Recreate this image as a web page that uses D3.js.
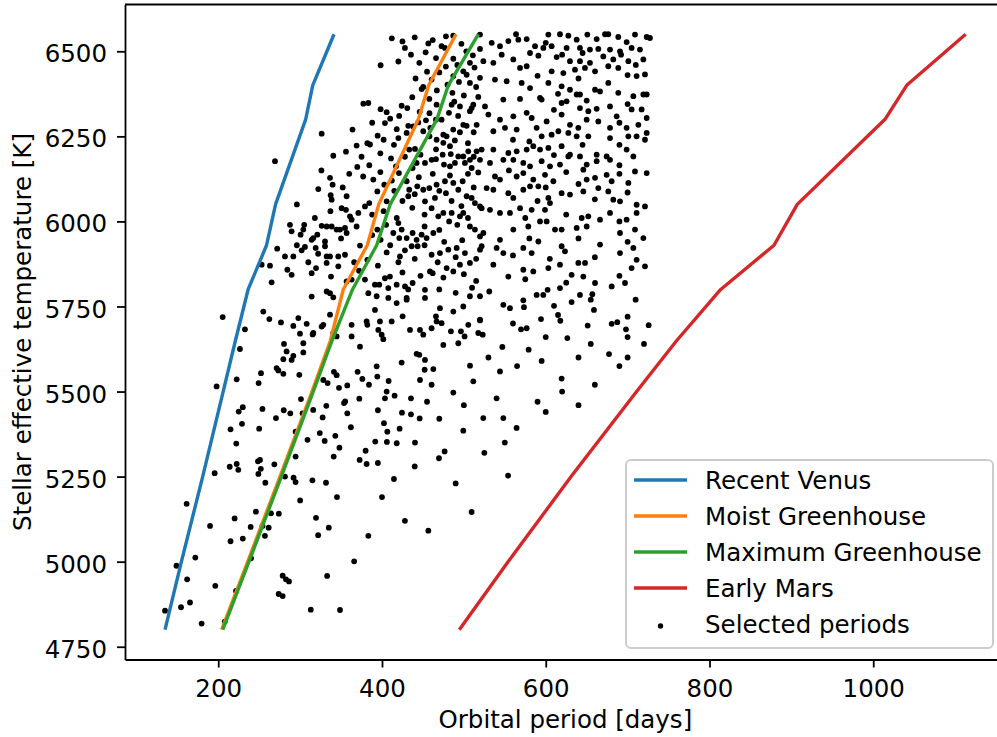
<!DOCTYPE html>
<html>
<head>
<meta charset="utf-8">
<script src="https://cdn.jsdelivr.net/npm/d3@7"></script>
<style>
body { margin: 0; background: #fff; }
text { font-family: "DejaVu Sans", sans-serif; }
</style>
</head>
<body>
<div id="graph"></div>
<script>
// stellar effective temperature grid [K] and orbital period at each limit [days]
var teff          = [4800, 5000, 5250, 5500, 5650, 5800, 5930, 6050, 6300, 6400, 6550];
var recentVenus   = [135, 155, 181, 206, 221, 236.5, 259, 270, 306.8, 315.4, 341.4];
var moistGH       = [204.2, 236, 275.4, 314.5, 337, 352.7, 382, 396, 444.4, 457, 490.4];
var maximumGH     = [205.5, 237.5, 277, 316, 339, 364, 393.5, 410, 467, 481, 517.6];
var earlyMars     = [494.4, 554, 631, 711, 760, 813.7, 878.8, 907.2, 1014.4, 1040.9, 1112.9];

var seriesNames  = ['Recent Venus', 'Moist Greenhouse', 'Maximum Greenhouse', 'Early Mars'];
var seriesValues = [recentVenus, moistGH, maximumGH, earlyMars];
var seriesColors = ['#1f77b4', '#ff7f0e', '#2ca02c', '#d62728'];
var scatterName  = 'Selected periods';

var xTicks = [200, 400, 600, 800, 1000];
var yTicks = [4750, 5000, 5250, 5500, 5750, 6000, 6250, 6500];

// selected periods: [period, teff]
var selected = [
[230,5454],[225,5441],[215,5389],[229,5405],[222,5347],[250,5391],[254,5449],[270.5,5422],[280,5445],[288,5436],
[303,5436],[294.5,5382],[316,5446],[327.5,5424],[332,5458],[324,5378],[330,5355],[309,5358],[343,5370],[341,5309],
[294.5,5309],[214,5279],[222.5,5287],[224.5,5270],[248.5,5295],[251,5299],[252,5273],[249,5258],[257.5,5232],[268.5,5286],
[281.5,5250],[292,5247],[294.5,5234],[315,5239],[331.6,5232],[195.6,5260],[161.4,5170],[220,5127],[246,5147],[264.4,5142],
[274,5141],[239.6,5102],[254,5105],[261.6,5100],[230,5068],[257,5076],[319.4,5129],[322,5078],[383.3,5076],[366,5001],
[333,4958],[278.7,4959],[282.7,4948],[286.4,4942],[273.8,4905],[278.7,4899],[221.7,4914],[196.4,4929],[172,5012],[149,4988],
[162,4948],[154.5,4866],[165.5,4880],[135,4856],[179.7,4818],[208,4824],[313,4859],[348.7,4858],[456.6,5091],[509.5,5146],
[554,5253],[414.6,5243],[469.6,5304],[476.5,5324],[499.3,5385],[523.7,5422],[548.2,5422],[564.4,5393],[440.3,5350],[418,5348],
[406,5352],[391.8,5353],[380,5326],[372.7,5299],[381.2,5287],[421.5,5391],[406.5,5382],[402.4,5407],[357.6,5436],[435.4,5433],
[446,5421],[424.4,5438],
[205.4,5719],[255,5735],[262.4,5713],[232.6,5683],[226.5,5625],[276.6,5703],[291.7,5693],[297.8,5716],[308,5699],[315.3,5668],
[299.8,5670],[280.3,5640],[283.5,5618],[291.7,5605],[289.6,5593],[303.9,5642],[303.9,5615],[279.5,5595],[271.3,5569],[273.4,5562],
[279.5,5552],[299,5549],[252.2,5554],[249.3,5525],[222.5,5536],[198,5515],[301,5478],[353.6,5466],[355,5471],[372.3,5479],
[357.6,5518],[347.5,5511],[341.3,5558],[344.6,5548],[333.6,5525],[328.3,5534],[316.1,5672],[326.3,5691],[328.3,5696],[336.5,5726],
[340.5,5672],[344.6,5662],[362.9,5662],[362.9,5696],[373.1,5632],[381.2,5706],[382.1,5696],[391.4,5740],[397.5,5706],[395.5,5681],
[399.6,5667],[401.6,5654],[411.8,5706],[417.9,5760],[425.2,5721],[430.1,5770],[434.2,5681],[442.3,5611],[446.4,5681],[450.4,5667],
[452.5,5593],[452.1,5564],[462.7,5566],[460.6,5686],[466.7,5706],[465.9,5721],[470.8,5745],[472.8,5701],[474.9,5637],[484.2,5677],
[487.1,5735],[493.2,5642],[496.4,5677],[499.3,5750],[500.9,5662],[505.4,5696],[519.7,5709],[517.6,5672],[446.4,5534],[460.6,5520],
[445.6,5608],[424,5585],[394.3,5544],[393.5,5574],[384.1,5520],[376,5537],[370.2,5558],[405.7,5500],[408.1,5531],[403.6,5480],
[415.4,5488],[435.4,5480],[511.5,5530],[507.5,5576],[487.1,5497],
[572.6,5768],[573.4,5748],[548.2,5755],[556.3,5745],[588.9,5784],[597,5784],[602.3,5799],[631.6,5763],[641.8,5784],[656.9,5786],
[709.8,5770],[610.1,5752],[658.9,5740],[594.2,5713],[617.8,5708],[651.2,5694],[680.5,5699],[687.4,5704],[698,5683],[725.7,5695],
[626.4,5657],[569.8,5683],[576.7,5686],[547,5631],[579.1,5623],[677.3,5610],[544.1,5559],[619.4,5538],[519.7,5711],[523,5667],
[519.7,5780],[531,5794],
[478.1,6544],[456.6,6523],[472.8,6515],[476.9,6510],[435.4,6490],[453.3,6497],[445.6,6466],[487.1,6478],[398.3,6459],[519.7,6549],
[519.7,6507],[507.4,6466],[499.3,6441],[487.1,6427],[503.4,6431],[519.7,6422],[450.4,6395],[448.4,6389],[460.6,6417],[507.4,6407],
[457.8,6360],[466.7,6343],[485.1,6343],[495.2,6338],[511.5,6343],[509.5,6333],[517.6,6366],[377.2,6346],[383.3,6348],[398.3,6330],
[405.7,6321],[424,6340],[430.9,6333],[481.8,6319],[507.4,6324],[488.3,6352],[453.7,6297],[465.9,6299],[472.8,6299],[444.3,6291],
[403.6,6289],[432.1,6281],[438.2,6279],[474.9,6255],[478.9,6250],[495.2,6262],[499.3,6284],[503.4,6281],[515.6,6284],[326.3,6258],
[394.7,6252],[369,6223],[382.1,6230],[385.3,6226],[414.6,6225],[430.1,6260],[433.3,6211],[440.3,6213],[450.4,6265],[466.7,6240],
[474.9,6231],[483,6221],[493.2,6191],[474.1,6196],[499.3,6191],[505.4,6206],[507.4,6181],[515.6,6206],[340.5,6193],[269.3,6177],
[336.5,6128],[339.7,6108],[369.8,6160],[384.5,6165],[389.4,6123],[402.8,6108],[417.1,6162],[420.7,6142],[437.4,6157],[442.3,6172],
[452.5,6172],[460.6,6181],[465.9,6183],[475.7,6167],[483,6162],[489.1,6172],[501.3,6172],[509.5,6157],[517.6,6144],[322.2,6095],
[337.3,6077],[338.5,6064],[356.8,6074],[350.7,6039],[356,6034],[360.9,6015],[362.9,6005],[371.1,6025],[369,5985],[379.2,6044],
[384.5,6054],[394.3,6088],[405.7,6059],[430.1,6118],[433.3,6093],[432.1,6074],[443.1,6103],[450.4,6093],[452.5,6059],[457.8,6098],
[460.6,6039],[464.7,6069],[466.7,6108],[476.9,6118],[478.1,6083],[487.1,6113],[493.2,6093],[498.5,6118],[503.4,6074],[509.5,6069],
[513.5,6054],[519.7,6044],[287.6,5990],[289.6,5971],[300.6,5961],[303.9,5976],[314.1,5946],[316.1,5951],[321,5961],[326.3,5987],
[332.4,5985],[330.4,5941],[338.5,5985],[344.6,5976],[348.7,5976],[354.8,5981],[356.8,5966],[394.3,5976],[398.3,5946],[413.8,5966],
[421.1,5951],[424,5976],[430.1,5951],[437.4,5966],[442.3,5946],[448.4,5961],[454.5,5951],[462.7,5966],[468.8,6015],[474.9,6025],
[485.1,6025],[495.2,6015],[499.3,6025],[507.4,5985],[513.5,5976],[519.7,5956],[281.5,5897],[291.7,5897],[301.9,5915],[305.9,5925],
[319,5922],[330.4,5927],[332.4,5897],[336.5,5897],[346.6,5897],[354.8,5902],[373.1,5929],[382.1,5887],[405.7,5909],[421.9,5897],
[436.2,5927],[443.5,5927],[460.6,5902],[470.8,5907],[481,5917],[491.2,5922],[501.3,5907],[519.7,5917],[253,5873],[263.2,5870],
[265.2,5821],[284.4,5858],[289.6,5843],[314.1,5848],[319.4,5863],[332.4,5878],[337.7,5838],[346.6,5868],[356.8,5824],[362.9,5829],
[379.2,5829],[383.3,5789],[391.4,5814],[396.7,5814],[403.6,5833],[407.7,5804],[409.7,5838],[417.9,5814],[428.1,5809],[437.4,5819],
[452.5,5799],[458.6,5853],[461.9,5848],[479,5863],[487.1,5853],[495.2,5873],[507.4,5878],[314.1,5779],[332.4,5794],[336.5,5789],
[340.5,5777],[393.5,5780],[407.7,5775],[430.1,5775],[452.5,5775],[507.4,5780],
[563.7,6550],[576.7,6536],[603.2,6549],[617.4,6550],[627.6,6546],[637.8,6534],[650.8,6549],[662.2,6536],[672.4,6550],[676.4,6550],
[688.6,6542],[698.8,6527],[709,6549],[723.3,6542],[727.3,6539],[534,6525],[544.1,6515],[554.3,6530],[566.5,6534],[586.9,6515],
[597.1,6510],[607.2,6515],[625.5,6510],[641.8,6510],[654,6505],[664.2,6507],[678.5,6505],[690.7,6500],[704.9,6510],[715.1,6505],
[546.2,6490],[560.4,6476],[580.8,6495],[591,6487],[613.3,6483],[629.6,6471],[641.8,6471],[654,6466],[670.3,6485],[682.5,6476],
[700.9,6471],[719.2,6476],[523.8,6471],[536,6466],[568.6,6451],[576.7,6456],[607.2,6441],[621.5,6436],[635.7,6446],[647.9,6451],
[660.2,6441],[676.4,6456],[688.6,6451],[711,6427],[721.2,6432],
[538,6417],[552.3,6412],[570.6,6407],[580.8,6392],[603.2,6407],[619.4,6397],[629.6,6387],[637.8,6373],[641.8,6373],[660.2,6387],
[666.3,6382],[676.4,6407],[688.6,6378],[707,6368],[719.2,6373],[723.3,6373],[525.8,6338],[548.2,6358],[568.6,6360],[593,6363],
[595,6358],[619.4,6348],[625.5,6353],[641.8,6333],[652,6324],[662.2,6331],[678.5,6338],[686.6,6309],[704.9,6329],[717.1,6329],
[723.3,6304],
[529.9,6314],[544.1,6299],[560.4,6309],[576.7,6319],[582.8,6304],[601.1,6294],[619.4,6314],[629.6,6284],[639.8,6275],[650,6299],
[664.2,6294],[678.5,6275],[698.8,6275],[713.1,6284],[536,6265],[550.2,6275],[564.5,6270],[588.9,6275],[595,6250],[607.2,6255],
[615.4,6265],[627.6,6260],[637.8,6250],[652,6250],[678.5,6245],[700.9,6250],[711,6250],[721.2,6240],[723.3,6260],
[521.7,6211],[536,6211],[554.3,6201],[564.5,6206],[576.7,6211],[584.8,6221],[593,6211],[603.2,6216],[619.4,6221],[629.6,6196],
[641.8,6191],[662.2,6196],[674.4,6191],[698.8,6211],[707,6191],[519.7,6181],[531.9,6172],[548.2,6181],[560.4,6181],[572.6,6172],
[580.8,6162],[595,6177],[605.2,6162],[617.4,6167],[627.6,6191],[650,6167],[662.2,6177],[678.5,6181],[709,6147],[723.3,6142],
[538,6132],[544.1,6123],[564.5,6132],[572.6,6142],[584.8,6123],[599.1,6137],[609.3,6118],[645.9,6152],[650,6123],[660.2,6128],
[674.4,6137],[680.5,6118],[700.9,6113],[527.8,6098],[536,6093],[554.3,6083],[560.4,6069],[572.6,6093],[580.8,6103],[591,6103],
[603.2,6069],[619.4,6083],[629.6,6079],[645.9,6088],[664.2,6098],[676.4,6088],[682.5,6064],[690.7,6059],[711,6049],[721.2,6044],
[521.7,6039],[531.9,6034],[544.1,6025],[556.3,6025],[568.6,6039],[582.8,6034],[599.1,6034],[605.2,6054],[643.9,6010],[652,6015],
[678.5,6025],[698.8,6005],[711,6025],[523.8,5966],[544.1,5946],[560.4,5976],[578.7,5985],[593,6000],[601.1,6000],[611.3,5976],
[619.4,5976],[637.8,5981],[650,5985],[666.3,6005],[690.7,5966],[709,5976],[719.2,5951],
[521.7,5927],[540,5922],[548.2,5907],[572.6,5922],[582.8,5907],[591,5941],[619.4,5927],[623.5,5912],[639.8,5878],[648,5878],
[666.3,5932],[690.7,5907],[707,5922],[711,5887],[721.2,5868],[536,5873],[554.3,5838],[572.6,5858],[584.8,5853],[603.2,5863],
[617.4,5873],[631.6,5843],[645.9,5838],[660.2,5819],[680.5,5809],[696.8,5819],[704.9,5863],[617.4,5804],
[412,6538],[425,6529],[440,6541],[462,6533],[487,6546],[497,6522],[428,6510],[503,6500],[511,6488],[466,6480],
[420,6470],[478,6455],[492,6460],[455,6440],[470,6438],[513,6452],[441,6420],[480,6402],[494,6410],[515,6395],
[467,6385],[486,6378],[500,6370],[437,6365],[421,6310],[446,6322],[458,6318],[493,6310],[410,6302],[388,6290],
[418,6271],[459,6275],[487,6270],[512,6262],[364,6270],[402,6240],[420,6245],[458,6250],[489,6238],[505,6230],
[356,6205],[375,6190],[398,6200],[411,6185],[428,6190],[447,6196],[466,6212],[484,6198],[512,6190],[360,6140],
[377,6132],[398,6145],[412,6120],[445,6130],[462,6140],[483,6135],[505,6140],[415,6090],[425,6060],[440,6080],
[470,6090],[485,6060],[497,6045],[512,6100],[388,6020],[402,6030],[418,6010],[437,6040],[452,6020],[482,6000],
[505,6010],[388,5960],[405,5990],[420,5995],[452,5985],[470,5975],[492,5990],[410,5930],[428,5915],[452,5930],
[476,5940],[498,5945],[420,5880],[440,5890],[468,5880],[490,5895],[515,5890],[425,5850],[447,5840],[475,5835],
[500,5845],[515,5825],[432,5800],[470,5800],[490,5790],[510,5805],[372,5855],[366,5880],[395,5870],[310,5880],
[322,5905],[296,5930],[272,5920],[350,5950],[305,5990],[318,6010],[337,6030],[296,6050],[352,6100],[326,6150],
[600,6525],[620,6490],[645,6495],[692,6490],[710,6460],[590,6428],[640,6420],[700,6430],[615,6375],[650,6355],
[700,6345],[610,6328],[690,6290],[560,6240],[580,6235],[645,6225],[690,6225],[610,6195],[690,6165],[555,6150],
[625,6145],[690,6140],[600,6100],[640,6110],[700,6085],[590,6060],[660,6065],[575,6010],[625,6020],[690,6000],
[580,5950],[640,5950],[700,5940],[560,5900],[605,5890],[660,5895],[575,5830],[625,5820],[690,5840],[655,5770],
[700,5720],[615,5725],[560,5700],[600,5660],[655,5640],[700,5660],[720,5640],[595,5590],[640,5600],[690,5575],
[530,5600],[565,5575],[620,5500],[660,5520],[590,5470],[540,5480],[500,5460],[470,5420],[455,5470],[395,5445],
[362,5395],[348,5335],[395,5290],[440,5280],[345,5190],[300,5180],[335,5100],[215,5060],[190,5105],[240,5010],
[400,5190],[428,5120],[490,5230],[525,5320],[550,5350],[600,5440],[640,5460],[700,5600]
];

var width = 997, height = 737;
var plotLeft = 125, plotTop = 4.5, plotW = 880.7, plotH = 655;
var fs = 24.5;

// matplotlib-like 5% margins around the data
var allX = selected.map(function(d){ return d[0]; });
seriesValues.forEach(function(s){ allX = allX.concat(s); });
var allY = selected.map(function(d){ return d[1]; }).concat(teff);
var xExt = d3.extent(allX), yExt = d3.extent(allY);
var xPad = (xExt[1] - xExt[0]) * 0.05, yPad = (yExt[1] - yExt[0]) * 0.05;

var x = d3.scaleLinear().domain([xExt[0] - xPad, xExt[1] + xPad]).range([0, plotW]);
var y = d3.scaleLinear().domain([yExt[0] - yPad, yExt[1] + yPad]).range([plotH, 0]);

var svg = d3.select('#graph').append('svg')
  .attr('width', width).attr('height', height);

var g = svg.append('g').attr('transform', 'translate(' + plotLeft + ',' + plotTop + ')');

// scatter first, lines drawn on top
g.selectAll('circle.sel').data(selected).enter()
  .append('circle')
  .attr('class', 'sel')
  .attr('cx', function(d){ return x(d[0]); })
  .attr('cy', function(d){ return y(d[1]); })
  .attr('r', 2.9)
  .attr('fill', '#000');

var line = d3.line()
  .x(function(d){ return x(d[0]); })
  .y(function(d){ return y(d[1]); });

seriesValues.forEach(function(vals, i){
  var pts = vals.map(function(v, j){ return [v, teff[j]]; });
  g.append('path')
    .attr('d', line(pts))
    .attr('fill', 'none')
    .attr('stroke', seriesColors[i])
    .attr('stroke-width', 3.4)
    .attr('stroke-linejoin', 'round')
    .attr('stroke-linecap', 'butt');
});

// axes
var xAxis = d3.axisBottom(x).tickValues(xTicks).tickSize(8).tickSizeOuter(0).tickFormat(d3.format('d'));
var yAxis = d3.axisLeft(y).tickValues(yTicks).tickSize(8).tickSizeOuter(0).tickFormat(d3.format('d'));

var gx = g.append('g').attr('transform', 'translate(0,' + plotH + ')').call(xAxis);
var gy = g.append('g').call(yAxis);

[gx, gy].forEach(function(ax){
  ax.select('.domain').attr('stroke', '#000').attr('stroke-width', 1.8);
  ax.selectAll('.tick line').attr('stroke', '#000').attr('stroke-width', 1.8);
  ax.selectAll('.tick text')
    .attr('fill', '#000')
    .style('font-size', fs + 'px')
    .style('font-family', '"DejaVu Sans", sans-serif');
});
gx.selectAll('.tick text').attr('dy', null).attr('y', 37);
gy.selectAll('.tick text').attr('dy', '0.43em').attr('x', -18);

// top and right spines
g.append('line').attr('x1', 0).attr('x2', plotW).attr('y1', 0).attr('y2', 0)
  .attr('stroke', '#000').attr('stroke-width', 1.8);
g.append('line').attr('x1', plotW).attr('x2', plotW).attr('y1', 0).attr('y2', plotH)
  .attr('stroke', '#000').attr('stroke-width', 1.8);

// axis labels
svg.append('text')
  .attr('x', plotLeft + plotW / 2).attr('y', 728)
  .attr('text-anchor', 'middle')
  .style('font-size', fs + 'px')
  .text('Orbital period [days]');

svg.append('text')
  .attr('transform', 'translate(31,' + (plotTop + plotH / 2) + ') rotate(-90)')
  .attr('text-anchor', 'middle')
  .style('font-size', fs + 'px')
  .text('Stellar effective temperature [K]');

// legend
var leg = svg.append('g').attr('transform', 'translate(626,460)');
leg.append('rect')
  .attr('width', 367).attr('height', 188)
  .attr('rx', 5).attr('ry', 5)
  .attr('fill', '#fff').attr('fill-opacity', 0.8)
  .attr('stroke', '#cccccc').attr('stroke-width', 2);

var rowY = function(i){ return 20 + i * 36; };
seriesNames.forEach(function(name, i){
  leg.append('line')
    .attr('x1', 8).attr('x2', 61)
    .attr('y1', rowY(i)).attr('y2', rowY(i))
    .attr('stroke', seriesColors[i]).attr('stroke-width', 3.4);
  leg.append('text')
    .attr('x', 79).attr('y', rowY(i) + 8.6)
    .style('font-size', fs + 'px')
    .text(name);
});
leg.append('circle')
  .attr('cx', 34.5).attr('cy', rowY(4) + 2)
  .attr('r', 2.7).attr('fill', '#000');
leg.append('text')
  .attr('x', 79).attr('y', rowY(4) + 8.6)
  .style('font-size', fs + 'px')
  .text(scatterName);
</script>
</body>
</html>
